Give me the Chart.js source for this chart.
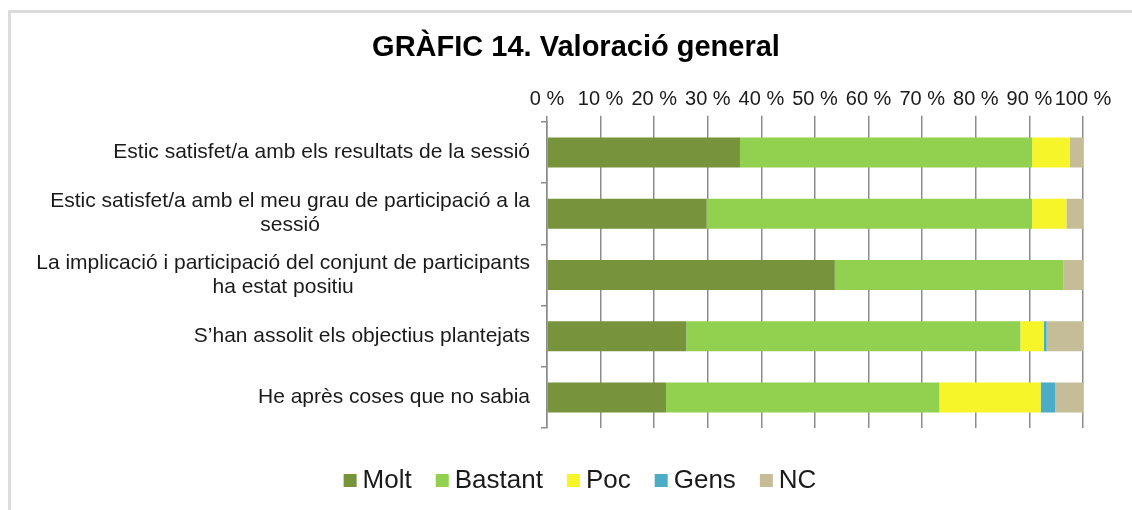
<!DOCTYPE html>
<html>
<head>
<meta charset="utf-8">
<script src="https://cdn.jsdelivr.net/npm/chart.js@4.4.1/dist/chart.umd.min.js"></script>
<style>
  html, body { margin: 0; padding: 0; background: #fff; overflow: hidden; }
  #frame { position: absolute; left: 8px; top: 10px; width: 2000px; height: 1000px;
           border-left: 3px solid #dcdcdc; border-top: 3px solid #dcdcdc; }
  #chart1 { position: absolute; left: 0; top: 0; }
</style>
</head>
<body>
<div id="frame"></div>
<canvas id="chart1" width="1132" height="510"></canvas>
<script>
// Dades del gràfic (percentatges)
const categories = [
  ['Estic satisfet/a amb els resultats de la sessió'],
  ['Estic satisfet/a amb el meu grau de participació a la', 'sessió'],
  ['La implicació i participació del conjunt de participants', 'ha estat positiu'],
  ['S\u2019han assolit els objectius plantejats'],
  ['He après coses que no sabia']
];
const seriesNames = ['Molt', 'Bastant', 'Poc', 'Gens', 'NC'];
const molt = [36.0, 29.8, 53.7, 26.0, 22.2];
const bastant = [54.5, 60.7, 42.6, 62.3, 51.0];
const poc = [7.0, 6.4, 0, 4.4, 18.9];
const gens = [0, 0, 0, 0.5, 2.7];
const nc = [2.5, 3.1, 3.7, 6.8, 5.2];
const colors = ['#77933C', '#92D050', '#F5F52A', '#4BACC6', '#C4BD97'];

const FONT = "'Liberation Sans', Arial, sans-serif";
const gridColor = '#8c8c8c';

// etiquetes de categoria: línies centrades, bloc alineat a la dreta
const categoryLabels = {
  id: 'categoryLabels',
  afterDraw(chart) {
    const ctx = chart.ctx;
    const yScale = chart.scales.y;
    const right = 530;
    const lineH = 24;
    ctx.save();
    ctx.font = '21px ' + FONT;
    ctx.fillStyle = '#1a1a1a';
    ctx.textAlign = 'center';
    ctx.textBaseline = 'middle';
    categories.forEach((lines, i) => {
      const yc = yScale.getPixelForValue(i);
      const w = Math.max(...lines.map(l => ctx.measureText(l).width));
      const cx = right - w / 2;
      lines.forEach((l, k) => {
        ctx.fillText(l, cx, yc - (lines.length - 1) * lineH / 2 + k * lineH);
      });
    });
    ctx.restore();
  }
};

// llegenda a baix
const bottomLegend = {
  id: 'bottomLegend',
  afterDraw(chart) {
    const ctx = chart.ctx;
    const box = 13, gapText = 6, gapItem = 24;
    const yc = 480;
    ctx.save();
    ctx.font = '26px ' + FONT;
    ctx.textBaseline = 'middle';
    ctx.textAlign = 'left';
    const items = chart.data.datasets.map(ds => ({ label: ds.label, color: ds.backgroundColor, w: ctx.measureText(ds.label).width }));
    let total = 0;
    items.forEach((it, i) => { total += box + gapText + it.w + (i < items.length - 1 ? gapItem : 0); });
    let x = 580 - total / 2;
    items.forEach(it => {
      ctx.fillStyle = it.color;
      ctx.fillRect(x, yc - 6, box, box);
      ctx.fillStyle = '#1a1a1a';
      ctx.fillText(it.label, x + box + gapText, yc + 1);
      x += box + gapText + it.w + gapItem;
    });
    ctx.restore();
  }
};

const values = [molt, bastant, poc, gens, nc];
const datasets = seriesNames.map((name, i) => ({
  label: name,
  data: values[i],
  backgroundColor: colors[i],
  borderWidth: 0,
  barPercentage: 0.49,
  categoryPercentage: 1.0
}));

new Chart(document.getElementById('chart1'), {
  type: 'bar',
  data: { labels: categories.map(c => c.join(' ')), datasets: datasets },
  options: {
    indexAxis: 'y',
    responsive: false,
    animation: false,
    devicePixelRatio: 1,
    layout: { padding: { left: 69, right: 49, top: 0, bottom: 82 } },
    scales: {
      x: {
        position: 'top',
        stacked: true,
        min: 0,
        max: 100,
        ticks: {
          stepSize: 10,
          padding: 4,
          color: '#1a1a1a',
          font: { family: FONT, size: 20 },
          maxRotation: 0,
          autoSkip: false,
          callback: v => v + ' %'
        },
        grid: { color: gridColor, lineWidth: 1.5, tickLength: 6 },
        border: { display: false },
        afterFit: s => { s.height = 56; }
      },
      y: {
        stacked: true,
        ticks: { display: false },
        grid: { offset: true, drawOnChartArea: false, drawTicks: true, tickLength: 6, color: gridColor, lineWidth: 1.5 },
        border: { display: true, color: gridColor, width: 1.5 },
        afterFit: s => { s.width = 547 - 69; }
      }
    },
    plugins: {
      title: {
        display: true,
        text: 'GRÀFIC 14. Valoració general',
        color: '#000',
        font: { family: FONT, size: 29, weight: 'bold' },
        padding: { top: 31, bottom: 0 }
      },
      legend: { display: false },
      tooltip: { enabled: false }
    }
  },
  plugins: [categoryLabels, bottomLegend]
});
</script>
</body>
</html>
